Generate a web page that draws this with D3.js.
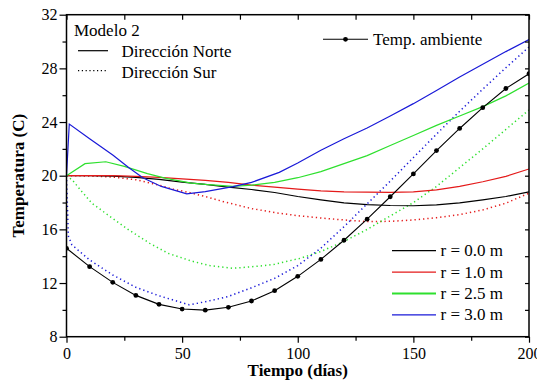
<!DOCTYPE html>
<html><head><meta charset="utf-8">
<script src="https://cdn.jsdelivr.net/npm/d3@7"></script>
<style>
body{margin:0;background:#fff;}
svg text{font-family:"Liberation Serif","Times New Roman",Times,"Tinos","Noto Serif","DejaVu Serif",serif;}
</style>
</head><body>
<svg id="chart" width="537" height="383"></svg>
<script>
// ---- data ----
const xTicks = [0, 50, 100, 150, 200];
const xMinor = [25, 75, 125, 175];
const yTicks = [8, 12, 16, 20, 24, 28, 32];
const yMinor = [10, 14, 18, 22, 26, 30];

const ambientDays = [0,10,20,30,40,50,60,70,80,90,100,110,120,130,140,150,160,170,180,190,200];
const ambientTemp = [14.59,13.22,12.05,11.08,10.41,10.06,9.98,10.19,10.66,11.43,12.5,13.76,15.19,16.76,18.43,20.13,21.87,23.52,25.07,26.5,27.6];

// Dirección Norte (solid)
const norteR00 = [[0,20],[10,20],[20,19.97],[30,19.88],[40,19.72],[50,19.52],[60,19.35],[70,19.15],[80,18.97],[90,18.75],[100,18.45],[110,18.2],[120,17.98],[130,17.85],[140,17.78],[150,17.76],[160,17.82],[170,17.98],[180,18.2],[190,18.45],[200,18.8]];
const norteR10 = [[0,20],[10,20],[20,20],[30,19.95],[40,19.87],[50,19.77],[60,19.65],[70,19.5],[80,19.3],[90,19.15],[100,19.0],[110,18.87],[120,18.8],[130,18.77],[140,18.76],[150,18.8],[160,18.95],[170,19.2],[180,19.55],[190,19.95],[200,20.5]];
const norteR25 = [[0,20],[8,20.9],[17,21.04],[25,20.7],[35,20.15],[43,19.8],[54,19.45],[60,19.35],[72,19.2],[80,19.3],[90,19.5],[100,19.85],[110,20.3],[120,20.9],[130,21.5],[140,22.25],[150,23.0],[160,23.75],[170,24.45],[180,25.15],[190,25.95],[200,26.9]];
const norteR30 = [[0,20],[1.2,23.85],[10,22.75],[20,21.55],[27,20.6],[33,19.85],[41,19.2],[52,18.65],[60,18.82],[72,19.18],[80,19.5],[92,20.25],[100,20.95],[110,21.9],[120,22.75],[130,23.55],[140,24.45],[150,25.37],[160,26.35],[170,27.35],[180,28.3],[190,29.25],[200,30.15]];

// Dirección Sur (dotted)
const surR10 = [[0,20],[10,19.98],[20,19.9],[30,19.7],[40,19.3],[46,19.0],[53,18.75],[60,18.45],[68,18.06],[80,17.55],[90,17.25],[100,17.02],[110,16.85],[120,16.7],[130,16.58],[140,16.6],[150,16.7],[160,16.87],[170,17.1],[180,17.45],[190,17.95],[200,18.7]];
const surR25 = [[0,20],[2.5,19.68],[6.7,18.8],[11,17.94],[17,17.19],[27,15.95],[36,14.96],[44,14.21],[54,13.64],[62,13.3],[72,13.1],[84,13.27],[90,13.4],[101,13.84],[110,14.35],[120,15.1],[130,16.0],[140,17.0],[150,18.0],[160,19.2],[170,20.6],[180,22.0],[190,23.45],[200,24.9]];
const surR30 = [[0,20],[0.8,15.5],[2.3,14.85],[10,13.72],[20,12.6],[30,11.68],[40,11.05],[53,10.38],[60,10.6],[70,11.0],[80,11.65],[90,12.35],[100,13.3],[110,14.6],[120,16.2],[130,17.9],[140,19.6],[150,21.35],[160,23.1],[170,24.8],[180,26.45],[190,28.05],[200,29.6]];

const rLabels = ["r = 0.0 m", "r = 1.0 m", "r = 2.5 m", "r = 3.0 m"];
const rColors = ["#000000", "#e41a1a", "#2ee02e", "#1a1ad8"];

// ---- layout ----
const FONT = '"Liberation Serif","Times New Roman",Times,"Tinos","Noto Serif","DejaVu Serif",serif';
const W = 537, H = 383;
const margin = {left: 66.5, right: 8, top: 14.7, bottom: 46.3};
const svg = d3.select("#chart");
const x = d3.scaleLinear().domain([0, 200]).range([margin.left, W - margin.right]);
const y = d3.scaleLinear().domain([8, 32]).range([H - margin.bottom, margin.top]);

svg.append("defs").append("clipPath").attr("id", "clip")
  .append("rect").attr("x", x(0)).attr("y", y(32)).attr("width", x(200) - x(0)).attr("height", y(8) - y(32));

const plot = svg.append("g").attr("clip-path", "url(#clip)");
const line = d3.line().x(d => x(d[0])).y(d => y(d[1]));

const solids = [norteR00, norteR10, norteR25, norteR30];
const dotted = [null, surR10, surR25, surR30];

dotted.forEach((s, i) => {
  if (!s) return;
  plot.append("path").datum(s).attr("d", line).attr("fill", "none")
    .attr("stroke", rColors[i]).attr("stroke-width", 1.5).attr("stroke-dasharray", "1.3,3");
});
solids.forEach((s, i) => {
  plot.append("path").datum(s).attr("d", line).attr("fill", "none")
    .attr("stroke", rColors[i]).attr("stroke-width", 1.2);
});

const ambient = ambientDays.map((d, i) => [d, ambientTemp[i]]);
plot.append("path").datum(ambient).attr("d", line).attr("fill", "none")
  .attr("stroke", "#000").attr("stroke-width", 1.1);
plot.selectAll("circle.amb").data(ambient).enter().append("circle")
  .attr("class", "amb").attr("cx", d => x(d[0])).attr("cy", d => y(d[1])).attr("r", 2.4).attr("fill", "#000");

// ---- axes ----
function styleAxis(g) {
  g.attr("font-family", null).attr("font-size", 16);
  g.select(".domain").remove();
  g.selectAll(".tick line").attr("stroke", "#000").attr("stroke-width", 1.2);
  g.selectAll(".tick text").attr("fill", "#000").style("font-family", FONT).attr("font-size", 16);
}
svg.append("g").attr("transform", `translate(0,${y(8)})`)
  .call(d3.axisBottom(x).tickValues(xTicks).tickSize(6).tickPadding(5).tickFormat(d3.format("d"))).call(styleAxis);
svg.append("g").attr("transform", `translate(0,${y(8)})`)
  .call(d3.axisBottom(x).tickValues(xMinor).tickSize(4).tickFormat("")).call(styleAxis);
svg.append("g").attr("transform", `translate(${x(0)},0)`)
  .call(d3.axisLeft(y).tickValues(yTicks).tickSize(7).tickPadding(2).tickFormat(d3.format("d"))).call(styleAxis);
svg.append("g").attr("transform", `translate(${x(0)},0)`)
  .call(d3.axisLeft(y).tickValues(yMinor).tickSize(4).tickFormat("")).call(styleAxis);
svg.append("g").attr("transform", `translate(0,${y(32)})`)
  .call(d3.axisTop(x).tickValues(xTicks.concat(xMinor)).tickSize(-5).tickFormat("")).call(styleAxis);
svg.append("g").attr("transform", `translate(${x(200)},0)`)
  .call(d3.axisRight(y).tickValues(yTicks.concat(yMinor)).tickSize(-4).tickFormat("")).call(styleAxis);

svg.append("rect").attr("x", x(0)).attr("y", y(32)).attr("width", x(200) - x(0)).attr("height", y(8) - y(32))
  .attr("fill", "none").attr("stroke", "#000").attr("stroke-width", 1.5);

// axis titles
function txt(xp, yp, s, size, bold) {
  return svg.append("text").attr("x", xp).attr("y", yp).style("font-family", FONT)
    .attr("font-size", size).attr("font-weight", bold ? "bold" : "normal").attr("fill", "#000").text(s);
}
txt(x(100), 376, "Tiempo (días)", 17, true).attr("text-anchor", "middle");
txt(0, 0, "Temperatura (C)", 17, true).attr("text-anchor", "middle")
  .attr("transform", `translate(24,${(y(8) + y(32)) / 2}) rotate(-90)`);

// ---- legends ----
txt(74, 36, "Modelo 2", 17, false);
svg.append("line").attr("x1", 78).attr("x2", 108).attr("y1", 50.7).attr("y2", 50.7).attr("stroke", "#000").attr("stroke-width", 1.2);
txt(121.5, 57, "Dirección Norte", 17, false);
svg.append("line").attr("x1", 78).attr("x2", 108).attr("y1", 70.7).attr("y2", 70.7).attr("stroke", "#000")
  .attr("stroke-width", 1.3).attr("stroke-dasharray", "1.2,2.6");
txt(121.5, 77.5, "Dirección Sur", 17, false);

svg.append("line").attr("x1", 323).attr("x2", 368).attr("y1", 39.3).attr("y2", 39.3).attr("stroke", "#000").attr("stroke-width", 1.1);
svg.append("circle").attr("cx", 345.5).attr("cy", 39.3).attr("r", 2.4).attr("fill", "#000");
txt(373, 45, "Temp. ambiente", 17, false);

rLabels.forEach((lab, i) => {
  const yy = 250.7 + i * 21.4;
  svg.append("line").attr("x1", 392).attr("x2", 436).attr("y1", yy).attr("y2", yy)
    .attr("stroke", rColors[i]).attr("stroke-width", i === 2 ? 2 : 1.2);
  txt(440.5, yy + 5.5, lab, 17, false);
});
</script>
</body></html>
